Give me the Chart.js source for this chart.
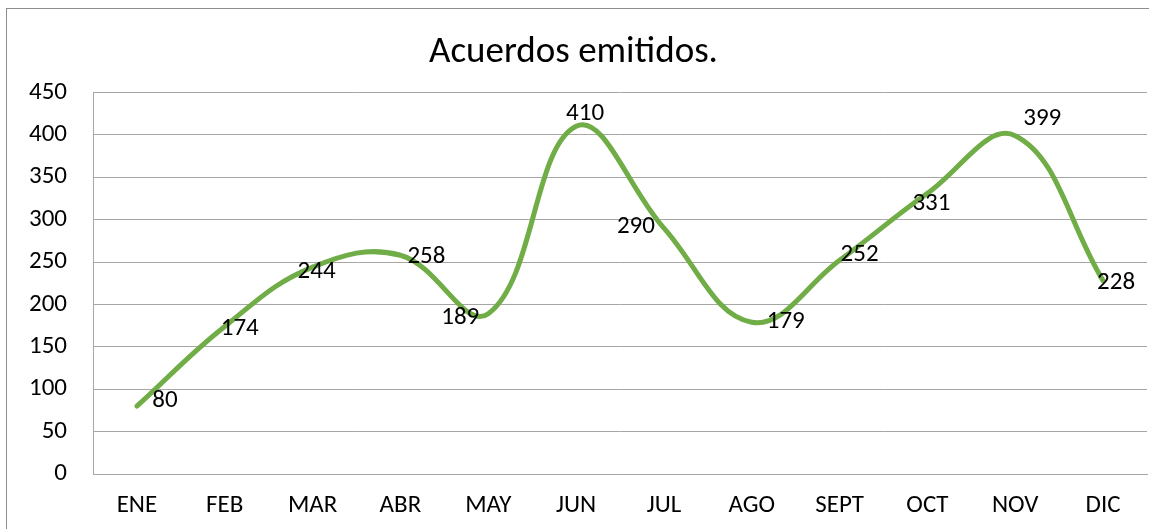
<!DOCTYPE html>
<html>
<head>
<meta charset="utf-8">
<script src="https://cdn.jsdelivr.net/npm/chart.js@4/dist/chart.umd.min.js"></script>
<style>
  html, body { margin: 0; padding: 0; background: #fff; overflow: hidden; }
  #marco { position: absolute; left: 6px; top: 8px; width: 1200px; height: 600px; border: 1px solid #8e8e8e; }
  #wrap { position: absolute; left: 0; top: 0; width: 1149px; height: 529px; }
</style>
</head>
<body>
<div id="marco"></div>
<div id="wrap"><canvas id="acuerdosChart"></canvas></div>
<script>
// Datos del gráfico
const meses = ['ENE', 'FEB', 'MAR', 'ABR', 'MAY', 'JUN', 'JUL', 'AGO', 'SEPT', 'OCT', 'NOV', 'DIC'];
const acuerdos = [80, 174, 244, 258, 189, 410, 290, 179, 252, 331, 399, 228];
const yMin = 0;
const yMax = 450;
const yPaso = 50;

const fuente = 'Carlito, Lato, sans-serif';

// Etiquetas de datos, desplazadas un poco de cada punto (como en Excel)
const etiquetasDatos = {
  id: 'etiquetasDatos',
  afterDatasetsDraw(chart, args, opts) {
    const ctx = chart.ctx;
    const meta = chart.getDatasetMeta(0);
    ctx.save();
    ctx.font = '25px ' + fuente;
    ctx.fillStyle = '#000';
    ctx.textAlign = 'center';
    ctx.textBaseline = 'middle';
    meta.data.forEach((pt, i) => {
      const d = opts.desplazamientos[i] || [0, 0];
      ctx.fillText(String(chart.data.datasets[0].data[i]), pt.x + d[0], pt.y + d[1]);
    });
    ctx.restore();
  }
};

const ctxAcuerdos = document.getElementById('acuerdosChart').getContext('2d');
new Chart(ctxAcuerdos, {
  type: 'line',
  data: {
    labels: meses,
    datasets: [{
      label: 'Acuerdos',
      data: acuerdos,
      borderColor: '#70AD47',
      borderWidth: 5,
      borderCapStyle: 'round',
      tension: 0.4,
      fill: false,
      pointRadius: 0,
      pointHoverRadius: 0
    }]
  },
  options: {
    responsive: true,
    maintainAspectRatio: false,
    animation: false,
    events: [],
    layout: { padding: { left: 0, right: 2, top: 0, bottom: 0 } },
    plugins: {
      legend: { display: false },
      tooltip: { enabled: false },
      title: {
        display: true,
        text: 'Acuerdos emitidos.',
        color: '#000',
        font: { family: fuente, size: 37, weight: 'normal', lineHeight: 1.2 },
        padding: { top: 31, bottom: 17 }
      },
      etiquetasDatos: {
        desplazamientos: [
          [28, -5], [15, 2], [4, 5], [26, 2], [-28, 4], [9, -13],
          [-28, -1], [34, 0], [20, -6], [4, 10], [27, -17], [13, 2]
        ]
      }
    },
    scales: {
      x: {
        offset: true,
        grid: { display: false, drawTicks: false },
        border: { display: true, color: '#a6a6a6', width: 1 },
        ticks: { color: '#000', padding: 17, font: { family: fuente, size: 25 } },
        afterFit(scale) { scale.height = 55; }
      },
      y: {
        min: yMin,
        max: yMax,
        grid: { color: '#a6a6a6', lineWidth: 1, drawTicks: false },
        border: { display: true, color: '#a6a6a6', width: 1 },
        ticks: { stepSize: yPaso, color: '#000', padding: 26, font: { family: fuente, size: 25 } },
        afterFit(scale) { scale.width = 93; }
      }
    }
  },
  plugins: [etiquetasDatos]
});
</script>
</body>
</html>
